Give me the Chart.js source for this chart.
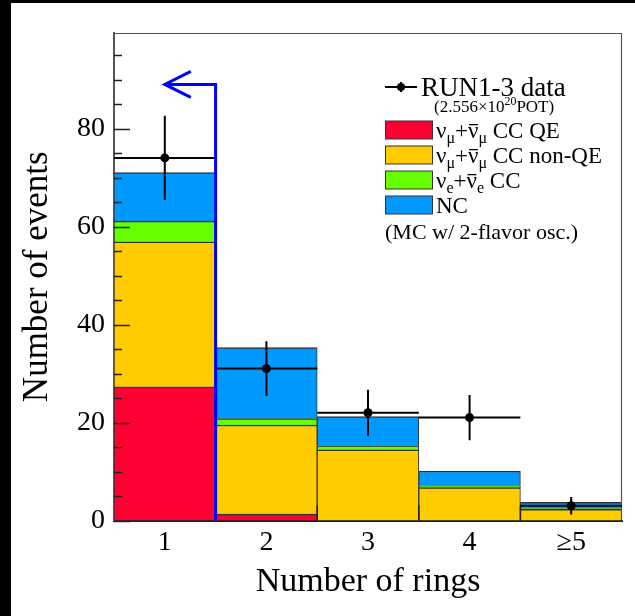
<!DOCTYPE html>
<html>
<head>
<meta charset="utf-8">
<script src="https://cdn.jsdelivr.net/npm/chart.js@4"></script>
<style>
  html, body { margin: 0; padding: 0; background: #000; width: 635px; height: 616px; overflow: hidden; }
  #c { position: absolute; left: 11px; top: 3px; }
</style>
</head>
<body>
<canvas id="c" width="624" height="613"></canvas>
<script>
// ---------- data ----------
const categories = ['1', '2', '3', '4', '\u22655'];
const ccqe     = [27.3, 1.3, 0, 0, 0];        // nu_mu + anti-nu_mu CC QE
const ccNonQe  = [29.6, 18.2, 14.4, 6.7, 2.3]; // nu_mu + anti-nu_mu CC non-QE
const nueCC    = [4.2, 1.3, 0.9, 0.4, 0.15];   // nu_e + anti-nu_e CC
const ncEvents = [9.9, 14.5, 5.9, 3.0, 1.25];  // NC
const dataCounts = [74, 31, 22, 21, 3];        // RUN1-3 data
const dataErrors = [8.6, 5.6, 4.7, 4.6, 1.8];
const yTickValues = [0, 20, 40, 60, 80];
const yMinorTicks = [5, 10, 15, 25, 30, 35, 45, 50, 55, 65, 70, 75, 85, 90, 95];
const yMax = 99.5;
const cutBoundary = 0.5;   // between 1 ring and 2 rings
const arrowLevel = 89;

const FONT = '"Liberation Serif", "Times New Roman", serif';
const colRed = '#FF0033', colYellow = '#FFCC00', colGreen = '#66FF00', colBlue = '#0099FF';

const legendRows = [
  { color: colRed,    segs: [{t:'\u03BD'},{t:'\u03BC',sub:true},{t:'+'},{t:'\u03BD',bar:true},{t:'\u03BC',sub:true},{t:' CC QE'}] },
  { color: colYellow, segs: [{t:'\u03BD'},{t:'\u03BC',sub:true},{t:'+'},{t:'\u03BD',bar:true},{t:'\u03BC',sub:true},{t:' CC non-QE'}] },
  { color: colGreen,  segs: [{t:'\u03BD'},{t:'e',sub:true},{t:'+'},{t:'\u03BD',bar:true},{t:'e',sub:true},{t:' CC'}] },
  { color: colBlue,   segs: [{t:'NC'}] }
];

function drawRich(ctx, x, y, segs, size) {
  let cx = x;
  for (const s of segs) {
    const fs = (s.sub || s.sup) ? size * 0.7 : size;
    ctx.font = fs + 'px ' + FONT;
    const dy = s.sub ? size * 0.26 : (s.sup ? -size * 0.42 : 0);
    ctx.fillText(s.t, cx, y + dy);
    const w = ctx.measureText(s.t).width;
    if (s.bar) {
      ctx.save();
      ctx.strokeStyle = '#000';
      ctx.lineWidth = 1.3;
      ctx.beginPath();
      ctx.moveTo(cx + 1, y - size * 0.56);
      ctx.lineTo(cx + w - 0.5, y - size * 0.56);
      ctx.stroke();
      ctx.restore();
    }
    cx += w;
  }
  return cx;
}

const overlay = {
  id: 'overlay',
  beforeDraw(chart) {
    const ctx = chart.ctx;
    ctx.save();
    ctx.fillStyle = '#fff';
    ctx.fillRect(0, 0, chart.width, chart.height);
    ctx.restore();
  },
  afterDatasetsDraw(chart) {
    const ctx = chart.ctx;
    const xs = chart.scales.x, ys = chart.scales.y;
    const ca = chart.chartArea;
    ctx.save();
    // top & right frame
    ctx.strokeStyle = '#555';
    ctx.lineWidth = 1.2;
    ctx.beginPath();
    ctx.moveTo(ca.left, ca.top + 0.5);
    ctx.lineTo(ca.right - 0.5, ca.top + 0.5);
    ctx.lineTo(ca.right - 0.5, ca.bottom);
    ctx.stroke();
    // y ticks (inward)
    ctx.strokeStyle = '#222';
    ctx.lineWidth = 1.5;
    ctx.beginPath();
    for (const v of yTickValues) {
      const py = Math.round(ys.getPixelForValue(v)) + 0.5;
      ctx.moveTo(ca.left, py); ctx.lineTo(ca.left + 16, py);
    }
    for (const v of yMinorTicks) {
      const py = Math.round(ys.getPixelForValue(v)) + 0.5;
      ctx.moveTo(ca.left, py); ctx.lineTo(ca.left + 8, py);
    }
    // x ticks at bin boundaries (inward)
    for (let i = 0; i < categories.length - 1; i++) {
      const px = xs.getPixelForValue(i + 0.5);
      ctx.moveTo(px, ca.bottom); ctx.lineTo(px, ca.bottom - 15);
    }
    ctx.stroke();
    // data error bars
    ctx.strokeStyle = '#000';
    ctx.lineWidth = 2;
    ctx.beginPath();
    for (let i = 0; i < dataCounts.length; i++) {
      const py = ys.getPixelForValue(dataCounts[i]);
      const px = xs.getPixelForValue(i);
      ctx.moveTo(xs.getPixelForValue(i - 0.5), py);
      ctx.lineTo(xs.getPixelForValue(i + 0.5), py);
      ctx.moveTo(px, ys.getPixelForValue(dataCounts[i] + dataErrors[i]));
      ctx.lineTo(px, ys.getPixelForValue(dataCounts[i] - dataErrors[i]));
    }
    ctx.stroke();
    // blue cut arrow
    const bx = xs.getPixelForValue(cutBoundary);
    const by = ys.getPixelForValue(arrowLevel);
    const tip = xs.getPixelForValue(0);
    ctx.strokeStyle = '#0000FF';
    ctx.lineWidth = 3;
    ctx.lineJoin = 'miter';
    ctx.beginPath();
    ctx.moveTo(bx, ys.getPixelForValue(0));
    ctx.lineTo(bx, by);
    ctx.lineTo(tip, by);
    ctx.moveTo(tip + 26, by - 13);
    ctx.lineTo(tip, by);
    ctx.lineTo(tip + 26, by + 13);
    ctx.stroke();
    ctx.restore();
  },
  afterDraw(chart) {
    const ctx = chart.ctx;
    ctx.save();
    ctx.fillStyle = '#000';
    ctx.textBaseline = 'alphabetic';
    ctx.textAlign = 'left';
    // data entry (canvas coords = page - (11,3))
    const lx0 = 374, lx1 = 406, ly = 84;
    ctx.strokeStyle = '#000';
    ctx.lineWidth = 2;
    ctx.beginPath();
    ctx.moveTo(lx0, ly); ctx.lineTo(lx1, ly);
    ctx.moveTo((lx0 + lx1) / 2, ly - 5); ctx.lineTo((lx0 + lx1) / 2, ly + 5);
    ctx.stroke();
    ctx.beginPath();
    ctx.arc((lx0 + lx1) / 2, ly, 4, 0, Math.PI * 2);
    ctx.fill();
    drawRich(ctx, 410, 93, [{t:'RUN1-3 data'}], 27);
    drawRich(ctx, 423, 109, [{t:'(2.556\u00D710'},{t:'20',sup:true},{t:'POT)'}], 17);
    // box entries
    for (let i = 0; i < legendRows.length; i++) {
      const top = 118 + i * 25;
      ctx.fillStyle = legendRows[i].color;
      ctx.fillRect(374.5, top, 47, 18);
      ctx.strokeStyle = '#333';
      ctx.lineWidth = 1;
      ctx.strokeRect(374.5, top, 47, 18);
      ctx.fillStyle = '#000';
      drawRich(ctx, 425, top + 16.5, legendRows[i].segs, 23);
    }
    drawRich(ctx, 374, 235.5, [{t:'(MC w/ 2-flavor osc.)'}], 22);
    ctx.restore();
  }
};

const barCommon = {
  borderColor: '#333',
  borderWidth: { top: 1.5, left: 1, right: 1, bottom: 0 },
  borderSkipped: false,
  categoryPercentage: 1.0,
  barPercentage: 1.0,
  stack: 'mc',
  order: 2
};

new Chart(document.getElementById('c'), {
  type: 'bar',
  data: {
    labels: categories,
    datasets: [
      { type: 'line', label: 'RUN1-3 data', data: dataCounts, showLine: false,
        pointRadius: 4.5, pointBackgroundColor: '#000', pointBorderColor: '#000', pointBorderWidth: 0,
        stack: 'data', order: 0 },
      Object.assign({ label: 'CC QE', data: ccqe, backgroundColor: colRed }, barCommon),
      Object.assign({ label: 'CC non-QE', data: ccNonQe, backgroundColor: colYellow }, barCommon),
      Object.assign({ label: 'nue CC', data: nueCC, backgroundColor: colGreen }, barCommon),
      Object.assign({ label: 'NC', data: ncEvents, backgroundColor: colBlue }, barCommon)
    ]
  },
  options: {
    responsive: false,
    animation: false,
    devicePixelRatio: 1,
    layout: { padding: { left: 0, top: 30, right: 13, bottom: 0 } },
    plugins: { legend: { display: false }, tooltip: { enabled: false } },
    scales: {
      x: {
        type: 'category',
        stacked: true,
        offset: true,
        grid: { display: false, drawTicks: false, offset: true },
        border: { display: true, color: '#222', width: 2 },
        ticks: { font: { family: FONT, size: 28 }, color: '#000', padding: 5, maxRotation: 0 },
        title: { display: true, text: 'Number of rings', color: '#000',
                 font: { family: FONT, size: 34 }, padding: { top: 0, bottom: 13.6 } },
        afterFit: (s) => { s.height = 95.5; }
      },
      y: {
        stacked: true,
        min: 0,
        max: yMax,
        afterBuildTicks: (s) => { s.ticks = yTickValues.map(v => ({ value: v })); },
        grid: { display: false, drawTicks: false },
        border: { display: true, color: '#555', width: 2 },
        ticks: { font: { family: FONT, size: 28 }, color: '#000', padding: 9 },
        title: { display: true, text: 'Number of events', color: '#000',
                 font: { family: FONT, size: 35 }, padding: { top: 5.5, bottom: 0 } },
        afterFit: (s) => { s.width = 103; }
      }
    }
  },
  plugins: [overlay]
});
</script>
</body>
</html>
